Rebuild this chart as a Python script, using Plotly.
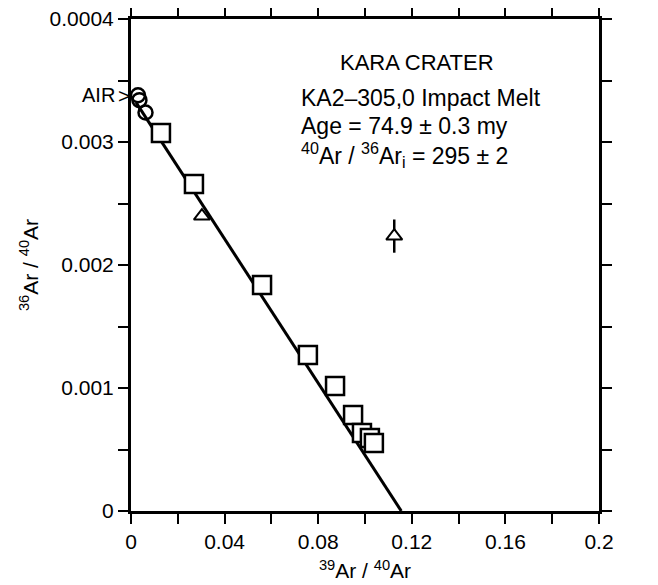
import plotly.graph_objects as go

# ---- data ----
circle_x = [0.0030, 0.0036, 0.0062]
circle_y = [0.00338, 0.00334, 0.00324]

square_x = [0.0128, 0.0269, 0.0560, 0.0756, 0.0872, 0.0949, 0.0987, 0.1021, 0.1038]
square_y = [0.003073, 0.002659, 0.001837, 0.001268, 0.001016, 0.000780, 0.000634, 0.000593, 0.000553]

triangle_x = [0.0303, 0.1125]
triangle_y = [0.002398, 0.002235]
triangle_err = [0.0, 0.000135]

fit_x = [0.0022, 0.1155]
fit_y = [0.00332, 0.0]

air_y = 0.00338

x_tickvals = [0, 0.02, 0.04, 0.06, 0.08, 0.10, 0.12, 0.14, 0.16, 0.18, 0.2]
x_ticktext = ["0", "", "0.04", "", "0.08", "", "0.12", "", "0.16", "", "0.2"]
y_tickvals = [0, 0.0005, 0.001, 0.0015, 0.002, 0.0025, 0.003, 0.0035, 0.004]
y_ticktext = ["0", "", "0.001", "", "0.002", "", "0.003", "", "0.0004"]

FONT = "Liberation Sans, Arial, Helvetica, sans-serif"

fig = go.Figure()

fig.add_trace(go.Scatter(x=fit_x, y=fit_y, mode="lines",
                         line=dict(color="black", width=3), showlegend=False))
fig.add_trace(go.Scatter(x=circle_x, y=circle_y, mode="markers",
                         marker=dict(symbol="circle-open", size=14, color="black",
                                     line=dict(width=2.5, color="black")),
                         showlegend=False, cliponaxis=False))
fig.add_trace(go.Scatter(x=square_x, y=square_y, mode="markers",
                         marker=dict(symbol="square", size=18, color="white",
                                     line=dict(width=2.5, color="black")),
                         showlegend=False))
fig.add_trace(go.Scatter(x=triangle_x, y=triangle_y, mode="markers",
                         marker=dict(symbol="triangle-up", size=14, color="white",
                                     line=dict(width=2, color="black")),
                         error_y=dict(type="data", array=triangle_err, visible=True,
                                      color="black", thickness=2.5, width=0),
                         showlegend=False))

common_axis = dict(showgrid=False, zeroline=False, showline=True, linecolor="black",
                   linewidth=3, ticks="outside", ticklen=10, tickwidth=2,
                   tickcolor="black", automargin=False, ticklabeloverflow="allow",
                   tickfont=dict(family=FONT, size=21, color="black"))

fig.update_layout(
    width=650, height=577,
    margin=dict(l=123, r=59, t=11, b=74),
    plot_bgcolor="white", paper_bgcolor="white",
    font=dict(family=FONT, color="black"),
    xaxis=dict(range=[0, 0.2], tickmode="array", tickvals=x_tickvals, ticktext=x_ticktext,
               mirror="ticks",
               title=dict(text="<sup>39</sup>Ar / <sup>40</sup>Ar",
                          font=dict(family=FONT, size=21), standoff=12),
               **common_axis),
    yaxis=dict(range=[0, 0.004], tickmode="array", tickvals=y_tickvals, ticktext=y_ticktext,
               mirror="ticks",
               title=dict(text="<sup>36</sup>Ar / <sup>40</sup>Ar",
                          font=dict(family=FONT, size=21), standoff=6),
               **common_axis),
)

ann_font = dict(family=FONT, size=23, color="black")
fig.add_annotation(x=0.1222, y=0.00365, text="KARA CRATER", showarrow=False,
                   xanchor="center", yanchor="middle", font=dict(family=FONT, size=22))
fig.add_annotation(x=0.0718, y=0.003358, text="KA2–305,0 Impact Melt", showarrow=False,
                   xanchor="left", yanchor="middle", font=ann_font)
fig.add_annotation(x=0.0718, y=0.00313, text="Age = 74.9 ± 0.3 my", showarrow=False,
                   xanchor="left", yanchor="middle", font=ann_font)
fig.add_annotation(x=0.0718, y=0.002894,
                   text="<sup>40</sup>Ar / <sup>36</sup>Ar<sub>i</sub> = 295 ± 2",
                   showarrow=False, xanchor="left", yanchor="middle", font=ann_font)

fig.add_annotation(x=0, y=air_y, text="AIR", showarrow=False, xanchor="right",
                   yanchor="middle", xshift=-14, font=dict(family=FONT, size=20))
fig.add_annotation(x=0, y=air_y, text=">", showarrow=False, xanchor="right",
                   yanchor="middle", xshift=1, font=dict(family=FONT, size=21))

fig.write_html("out.html")
